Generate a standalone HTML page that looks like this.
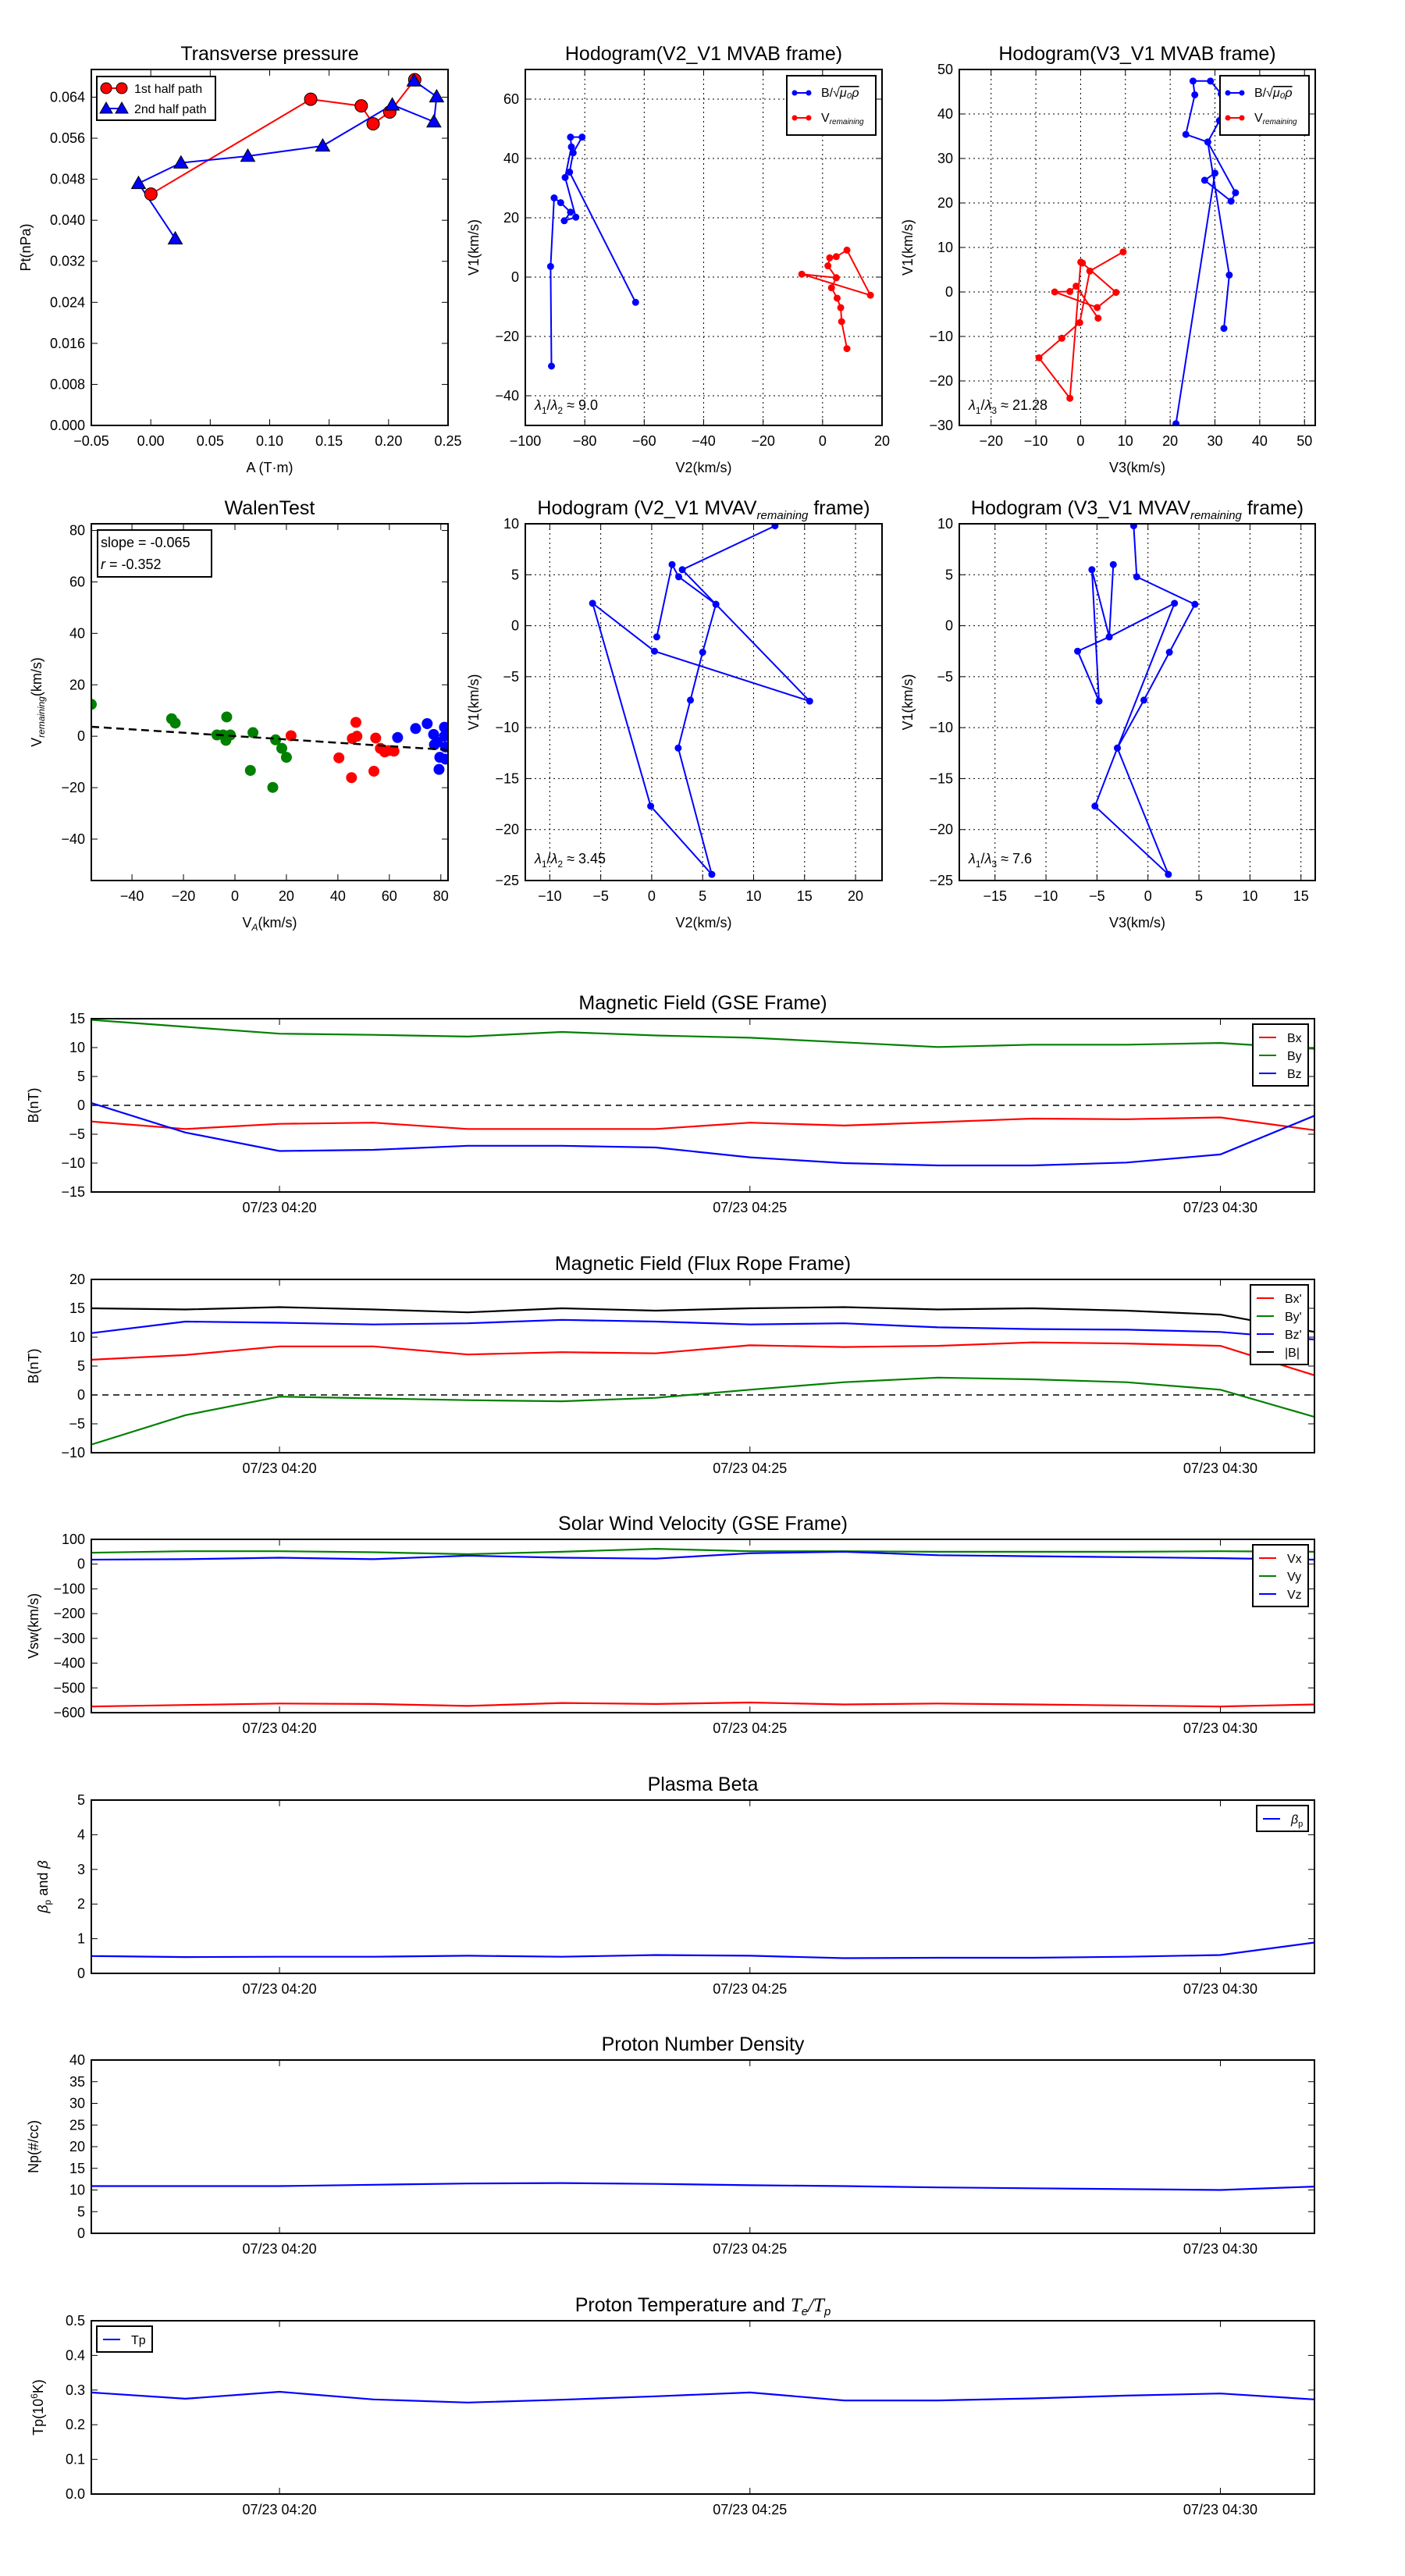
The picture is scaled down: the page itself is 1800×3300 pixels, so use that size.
<!DOCTYPE html>
<html><head><meta charset="utf-8"><title>Flux rope analysis</title>
<style>
html,body{margin:0;padding:0;background:#fff;}
svg{display:block;font-family:"Liberation Sans","DejaVu Sans",sans-serif;}
</style></head>
<body>
<svg id="fig" width="1800" height="3300" viewBox="0 0 1800 3300" xmlns="http://www.w3.org/2000/svg"></svg>
<script>
// ---------- Transverse pressure ----------
const ptFirstA = [0.0001, 0.1345, 0.177, 0.187, 0.201, 0.222];
const ptFirstP = [0.0451, 0.0636, 0.0623, 0.0588, 0.0611, 0.0674];
const ptSecondA = [0.0206, -0.0103, 0.0254, 0.0816, 0.1446, 0.2031, 0.2381, 0.2404, 0.2214];
const ptSecondP = [0.0364, 0.0472, 0.0512, 0.0525, 0.0545, 0.0625, 0.0592, 0.0641, 0.0672];
// ---------- Hodogram V2_V1 MVAB ----------
const h1BlueV2 = [-91.2, -91.5, -90.3, -88.1, -84.8, -86.9, -83.0, -86.6, -84.5, -84.8, -80.9, -83.9, -85.1, -62.9];
const h1BlueV1 = [-30, 3.6, 26.7, 25.1, 21.9, 19.0, 20.2, 33.6, 43.9, 47.2, 47.2, 41.9, 35.4, -8.5];
const h1RedV2 = [8.2, 6.4, 6.1, 4.9, 3.0, 4.6, -7.0, 16.1, 8.2, 4.6, 2.4, 1.8, 4.6];
const h1RedV1 = [-24.1, -15.0, -10.3, -7.1, -3.6, -0.2, 1.0, -6.1, 9.1, 6.9, 6.5, 3.8, -0.2];
// ---------- Hodogram V3_V1 MVAB ----------
const h2BlueV3 = [21.3, 30.0, 27.7, 33.6, 34.6, 28.4, 23.5, 25.5, 25.1, 29.0, 31.4, 31.0, 28.4, 33.2, 32.0];
const h2BlueV1 = [-29.6, 26.7, 25.1, 20.4, 22.3, 33.7, 35.4, 44.3, 47.4, 47.4, 44.5, 38.5, 33.7, 3.8, -8.2];
const h2RedV3 = [9.5, 2.05, -0.2, -4.2, -9.3, -2.4, 0.03, 0.4, 7.9, 3.7, -5.8, -2.4, -1.0, 3.9];
const h2RedV1 = [9.0, 4.7, -6.9, -10.4, -14.8, -23.9, 6.7, 6.5, -0.1, -3.5, 0.0, 0.1, 1.3, -5.9];
// ---------- Walen test ----------
const walenGreenX = [-55.8, -24.6, -23.2, -7, -4.6, -3.2, -3.5, -1.8, 6, 7, 15.8, 18.2, 20, 14.7];
const walenGreenY = [12.4, 6.8, 5.1, 0.5, 0.5, 7.5, -1.6, 0.5, -13.3, 1.4, -1.4, -4.7, -8.2, -19.9];
const walenRedX = [21.8, 40.4, 45.6, 47, 47.4, 45.3, 54, 54.7, 56.5, 58.2, 59.6, 61.8];
const walenRedY = [0.2, -8.4, -0.9, 5.4, 0, -16.1, -13.6, -0.7, -4.7, -6.1, -5.6, -5.8];
const walenBlueX = [63.2, 70.2, 74.7, 77.2, 77.5, 78.6, 79.3, 79.6, 81.4, 81.4, 81.8, 81.8];
const walenBlueY = [-0.5, 3.0, 4.9, 0.7, -3.3, -2.3, -12.9, -8.2, 3.5, 0.0, -4.2, -8.9];
const walenFit = [-0.065, 0.07]; // slope, intercept
// ---------- Hodogram V2_V1 MVAV ----------
const h3V2 = [12.1, 3.0, 6.3, 15.5, 0.27, -5.8, -0.1, 5.9, 2.6, 3.8, 5.0, 6.3, 2.65, 2.0, 0.5];
const h3V1 = [9.8, 5.5, 2.1, -7.4, -2.5, 2.2, -17.7, -24.4, -12.0, -7.3, -2.6, 2.1, 4.8, 6.0, -1.1];
// ---------- Hodogram V3_V1 MVAV ----------
const h4V3 = [-1.4, -1.1, 4.6, 2.1, -0.4, -3.0, -5.2, 2.0, -3.0, 2.6, -3.8, -5.5, -4.8, -6.9, -3.8, -3.4];
const h4V1 = [9.8, 4.8, 2.1, -2.6, -7.3, -12.0, -17.7, -24.4, -12.0, 2.2, -1.1, 5.5, -7.4, -2.5, -1.1, 6.0];
// ---------- Time series (minutes after 04:18) ----------
const timeMin = [0,1,2,3,4,5,6,7,8,9,10,11,12,13];
const timeTickMin = [2, 7, 12];
const timeTickLabels = ["07/23 04:20", "07/23 04:25", "07/23 04:30"];
const bx = [-2.8,-4.1,-3.2,-3.0,-4.1,-4.1,-4.1,-3.0,-3.5,-2.9,-2.3,-2.4,-2.1,-4.3];
const by = [14.8,13.6,12.4,12.2,11.9,12.7,12.1,11.7,10.9,10.1,10.5,10.5,10.8,9.8];
const bz = [0.4,-4.7,-7.9,-7.7,-7.0,-7.0,-7.3,-9.0,-10.0,-10.4,-10.4,-9.9,-8.5,-1.8];
const bxp = [6.1,6.9,8.4,8.4,7.0,7.4,7.2,8.6,8.3,8.5,9.1,8.9,8.5,3.4];
const byp = [-8.6,-3.5,-0.3,-0.6,-0.9,-1.1,-0.5,0.9,2.2,3.0,2.7,2.2,0.9,-3.8];
const bzp = [10.7,12.7,12.5,12.2,12.4,13.0,12.7,12.2,12.4,11.7,11.4,11.3,10.9,9.6];
const bmag = [15.0,14.8,15.2,14.8,14.3,15.0,14.6,15.0,15.2,14.8,15.0,14.6,13.9,10.9];
const vx = [-575,-569,-563,-565,-573,-561,-565,-559,-567,-563,-567,-571,-575,-567];
const vy = [46,52,52,48,40,50,62,52,52,50,50,50,52,50];
const vz = [18,20,26,20,34,26,22,44,50,36,32,28,24,18];
const betaP = [0.5,0.47,0.48,0.48,0.51,0.48,0.53,0.51,0.44,0.45,0.45,0.48,0.53,0.89];
const np = [10.9,10.9,10.9,11.2,11.5,11.6,11.4,11.1,10.9,10.6,10.4,10.2,10.0,10.8];
const tp = [0.293,0.275,0.295,0.273,0.264,0.272,0.282,0.293,0.270,0.270,0.276,0.284,0.290,0.273];

const NS = "http://www.w3.org/2000/svg";
const svg = document.getElementById('fig');
function mk(tag, attrs, parent, text){
  const e = document.createElementNS(NS, tag);
  for (const k in attrs) e.setAttribute(k, attrs[k]);
  if (text !== undefined) e.textContent = text;
  (parent || svg).appendChild(e);
  return e;
}
function fmt(v, d){ const s = v.toFixed(d); return s.replace('-', '\u2212'); }
function range(a, b, s){ const r=[]; for(let v=a; v<=b+1e-9; v+=s) r.push(Math.round(v*1e6)/1e6); return r; }

function axes(o){
  const g = mk('g', {});
  
  
  const sx = v => o.x0 + (v - o.xmin) / (o.xmax - o.xmin) * (o.x1 - o.x0);
  const sy = v => o.y1 - (v - o.ymin) / (o.ymax - o.ymin) * (o.y1 - o.y0);
  mk('rect', {x:o.x0, y:o.y0, width:o.x1-o.x0, height:o.y1-o.y0, fill:'#fff'}, g);
  if (o.grid){
    o.xticks.forEach(v => mk('line', {x1:sx(v), x2:sx(v), y1:o.y0, y2:o.y1, stroke:'#000', 'stroke-width':1, 'stroke-dasharray':'2,4'}, g));
    o.yticks.forEach(v => mk('line', {x1:o.x0, x2:o.x1, y1:sy(v), y2:sy(v), stroke:'#000', 'stroke-width':1, 'stroke-dasharray':'2,4'}, g));
  }
  const tl = 8;
  const xg = mk('g', {}, g);
  
  
  o.xticks.forEach((v, i) => {
    const x = sx(v);
    mk('line', {x1:x, x2:x, y1:o.y1, y2:o.y1-tl, stroke:'#000', 'stroke-width':1}, xg);
    mk('line', {x1:x, x2:x, y1:o.y0, y2:o.y0+tl, stroke:'#000', 'stroke-width':1}, xg);
    const lab = o.xlabels ? o.xlabels[i] : fmt(v, o.xdec || 0);
    mk('text', {x:x, y:o.y1+26, 'text-anchor':'middle', 'font-size':18}, xg, lab);
  });
  const yg = mk('g', {}, g);
  
  
  o.yticks.forEach(v => {
    const y = sy(v);
    mk('line', {x1:o.x0, x2:o.x0+tl, y1:y, y2:y, stroke:'#000', 'stroke-width':1}, yg);
    mk('line', {x1:o.x1, x2:o.x1-tl, y1:y, y2:y, stroke:'#000', 'stroke-width':1}, yg);
    mk('text', {x:o.x0-8, y:y+6, 'text-anchor':'end', 'font-size':18}, yg, fmt(v, o.ydec || 0));
  });
  const t = mk('text', {x:(o.x0+o.x1)/2, y:o.y0-12, 'text-anchor':'middle', 'font-size':25}, g, o.title);
  
  
  if (o.xtitle){
    const xt = mk('text', {x:(o.x0+o.x1)/2, y:o.y1+60, 'text-anchor':'middle', 'font-size':18}, g, o.xtitle);
    
    
  }
  if (o.ytitle){
    const cx = o.x0 - (o.ytoff || 68), cy = (o.y0+o.y1)/2;
    const yt = mk('text', {x:cx, y:cy, 'text-anchor':'middle', 'font-size':18, transform:`rotate(-90 ${cx} ${cy})`}, g);
    if (typeof o.ytitle === 'string') yt.textContent = o.ytitle; else o.ytitle(yt);
    
    
  }
  const clipId = 'c' + o.name;
  const cp = mk('clipPath', {id:clipId}, g);
  mk('rect', {x:o.x0, y:o.y0, width:o.x1-o.x0, height:o.y1-o.y0}, cp);
  const plot = mk('g', {'clip-path':`url(#${clipId})`}, g);
  
  
  o.frame = () => mk('rect', {x:o.x0, y:o.y0, width:o.x1-o.x0, height:o.y1-o.y0, fill:'none', stroke:'#000', 'stroke-width':2}, g);
  return {g, plot, sx, sy};
}
function line(ax, xs, ys, color, name, w){
  const d = xs.map((x,i) => (i ? 'L' : 'M') + ax.sx(x).toFixed(1) + ',' + ax.sy(ys[i]).toFixed(1)).join('');
  const p = mk('path', {d:d, fill:'none', stroke:color, 'stroke-width':w || 2}, ax.plot);
  
  
  return p;
}
function dots(ax, xs, ys, color, name, r, shape){
  xs.forEach((x,i) => {
    const cx = ax.sx(x), cy = ax.sy(ys[i]);
    let e;
    if (shape === 'tri'){
      e = mk('polygon', {points:`${cx},${cy-r} ${cx-r},${cy+r*0.75} ${cx+r},${cy+r*0.75}`, fill:color, stroke:'#000', 'stroke-width':1}, ax.plot);
    } else {
      e = mk('circle', {cx:cx, cy:cy, r:r, fill:color, stroke: shape==='edge' ? '#000' : color, 'stroke-width':1}, ax.plot);
    }
    
    
  });
}
function legendBox(x, y, w, h, name){
  const g = mk('g', {});
  
  
  mk('rect', {x:x, y:y, width:w, height:h, fill:'#fff', stroke:'#000', 'stroke-width':2}, g);
  return g;
}

// ===== Layout =====
const R1 = [89, 545], R2 = [671, 1128];
const C = [[117, 574], [673, 1130], [1229, 1685]];

// Transverse pressure
(function(){
  const o = {name:'transverse-pressure', x0:C[0][0], x1:C[0][1], y0:R1[0], y1:R1[1], xmin:-0.05, xmax:0.25, ymin:0, ymax:0.0694,
    xticks:range(-0.05,0.25,0.05), xdec:2, yticks:range(0,0.064,0.008), ydec:3, title:'Transverse pressure', xtitle:'A (T\u00b7m)', ytitle:'Pt(nPa)', ytoff:78};
  const ax = axes(o);
  line(ax, ptFirstA, ptFirstP, '#f00', 'first-half-path-line', 2);
  line(ax, ptSecondA, ptSecondP, '#00f', 'second-half-path-line', 2);
  dots(ax, ptFirstA, ptFirstP, '#f00', 'first-half-point', 8, 'edge');
  dots(ax, ptSecondA, ptSecondP, '#00f', 'second-half-point', 9, 'tri');
  o.frame();
  const lg = legendBox(124, 98, 152, 56, 'pressure-legend');
  mk('line', {x1:134, x2:156, y1:113, y2:113, stroke:'#f00', 'stroke-width':2}, lg);
  mk('circle', {cx:136, cy:113, r:7, fill:'#f00', stroke:'#000'}, lg);
  mk('circle', {cx:156, cy:113, r:7, fill:'#f00', stroke:'#000'}, lg);
  mk('text', {x:172, y:119, 'font-size':16}, lg, '1st half path');
  mk('line', {x1:134, x2:156, y1:139, y2:139, stroke:'#00f', 'stroke-width':2}, lg);
  mk('polygon', {points:'136,131 128,145 144,145', fill:'#00f', stroke:'#000'}, lg);
  mk('polygon', {points:'156,131 148,145 164,145', fill:'#00f', stroke:'#000'}, lg);
  mk('text', {x:172, y:145, 'font-size':16}, lg, '2nd half path');
})();

function hodoLegend(x, y, name, sq){
  const lg = legendBox(x, y, 114, 76, name);
  mk('line', {x1:x+8, x2:x+30, y1:y+22, y2:y+22, stroke:'#00f', 'stroke-width':2}, lg);
  mk('circle', {cx:x+10, cy:y+22, r:3.5, fill:'#00f'}, lg);
  mk('circle', {cx:x+28, cy:y+22, r:3.5, fill:'#00f'}, lg);
  const t1 = mk('text', {x:x+44, y:y+27, 'font-size':16}, lg);
  t1.textContent = 'B/\u221a';
  mk('tspan', {'font-style':'italic', 'text-decoration':'overline'}, t1, sq);
  mk('line', {x1:x+8, x2:x+30, y1:y+54, y2:y+54, stroke:'#f00', 'stroke-width':2}, lg);
  mk('circle', {cx:x+10, cy:y+54, r:3.5, fill:'#f00'}, lg);
  mk('circle', {cx:x+28, cy:y+54, r:3.5, fill:'#f00'}, lg);
  const t2 = mk('text', {x:x+44, y:y+59, 'font-size':16}, lg);
  t2.textContent = 'V';
  mk('tspan', {'font-size':10, 'font-style':'italic', dy:3}, t2, 'remaining');
}
function ratioText(x, y, txt, sub2, name){
  const t = mk('text', {x:x, y:y, 'font-size':18}, svg);
  
  
  mk('tspan', {'font-style':'italic'}, t, '\u03bb');
  mk('tspan', {'font-size':12, dy:5}, t, '1');
  mk('tspan', {dy:-5}, t, '/');
  mk('tspan', {'font-style':'italic'}, t, '\u03bb');
  mk('tspan', {'font-size':12, dy:5}, t, sub2);
  mk('tspan', {dy:-5}, t, ' \u2248 ' + txt);
}

// Hodogram V2_V1 MVAB
(function(){
  const o = {name:'hodogram-v2-v1-mvab', x0:C[1][0], x1:C[1][1], y0:R1[0], y1:R1[1], xmin:-100, xmax:20, ymin:-50, ymax:70,
    xticks:range(-100,20,20), yticks:range(-40,60,20), grid:true, title:'Hodogram(V2_V1 MVAB frame)', xtitle:'V2(km/s)', ytitle:'V1(km/s)', ytoff:60};
  const ax = axes(o);
  line(ax, h1BlueV2, h1BlueV1, '#00f', 'b-hodogram-line', 2);
  dots(ax, h1BlueV2, h1BlueV1, '#00f', 'b-hodogram-point', 4);
  line(ax, h1RedV2, h1RedV1, '#f00', 'v-hodogram-line', 2);
  dots(ax, h1RedV2, h1RedV1, '#f00', 'v-hodogram-point', 4);
  o.frame();
  hodoLegend(C[1][1]-122, R1[0]+8, 'hodogram-mvab-v2-legend', '\u03bc\u2080\u03c1');
  ratioText(C[1][0]+12, R1[1]-20, '9.0', '2', 'eigen-ratio-label');
})();

// Hodogram V3_V1 MVAB
(function(){
  const o = {name:'hodogram-v3-v1-mvab', x0:C[2][0], x1:C[2][1], y0:R1[0], y1:R1[1], xmin:-27.1, xmax:52.4, ymin:-30, ymax:50,
    xticks:range(-20,50,10), yticks:range(-30,50,10), grid:true, title:'Hodogram(V3_V1 MVAB frame)', xtitle:'V3(km/s)', ytitle:'V1(km/s)', ytoff:60};
  const ax = axes(o);
  line(ax, h2BlueV3, h2BlueV1, '#00f', 'b-hodogram-line', 2);
  dots(ax, h2BlueV3, h2BlueV1, '#00f', 'b-hodogram-point', 4);
  line(ax, h2RedV3, h2RedV1, '#f00', 'v-hodogram-line', 2);
  dots(ax, h2RedV3, h2RedV1, '#f00', 'v-hodogram-point', 4);
  o.frame();
  hodoLegend(C[2][1]-122, R1[0]+8, 'hodogram-mvab-v3-legend', '\u03bc\u2080\u03c1');
  ratioText(C[2][0]+12, R1[1]-20, '21.28', '3', 'eigen-ratio-label');
})();

// ===== Row 2 =====
(function(){
  const o = {name:'walen-test', x0:C[0][0], x1:C[0][1], y0:R2[0], y1:R2[1], xmin:-55.8, xmax:82.8, ymin:-56.1, ymax:82.6,
    xticks:range(-40,80,20), yticks:range(-40,80,20), title:'WalenTest', ytoff:64,
    ytitle: t => { t.textContent='V'; mk('tspan', {'font-size':12, 'font-style':'italic', dy:4}, t, 'remaining'); mk('tspan', {dy:-4}, t, '(km/s)'); }};
  const ax = axes(o);
  const xt = mk('text', {x:(C[0][0]+C[0][1])/2, y:R2[1]+60, 'text-anchor':'middle', 'font-size':18}, ax.g);
  
  
  xt.textContent = 'V';
  mk('tspan', {'font-size':12, 'font-style':'italic', dy:4}, xt, 'A');
  mk('tspan', {dy:-4}, xt, '(km/s)');
  dots(ax, walenGreenX, walenGreenY, '#008000', 'walen-point-green', 6.5);
  dots(ax, walenRedX, walenRedY, '#f00', 'walen-point-red', 6.5);
  dots(ax, walenBlueX, walenBlueY, '#00f', 'walen-point-blue', 6.5);
  const fx = [o.xmin, o.xmax];
  line(ax, fx, fx.map(v => walenFit[0]*v + walenFit[1]), '#000', 'walen-fit-line', 2.5).setAttribute('stroke-dasharray', '10,6');
  o.frame();
  const lg = legendBox(C[0][0]+8, R2[0]+8, 146, 60, 'walen-stats-box');
  mk('text', {x:C[0][0]+12, y:R2[0]+30, 'font-size':18}, lg, 'slope = -0.065');
  const r = mk('text', {x:C[0][0]+12, y:R2[0]+58, 'font-size':18}, lg);
  mk('tspan', {'font-style':'italic'}, r, 'r');
  mk('tspan', {}, r, ' = -0.352');
})();

(function(){
  const o = {name:'hodogram-v2-v1-mvav', x0:C[1][0], x1:C[1][1], y0:R2[0], y1:R2[1], xmin:-12.4, xmax:22.6, ymin:-25, ymax:10,
    xticks:range(-10,20,5), yticks:range(-25,10,5), grid:true, xtitle:'V2(km/s)', ytitle:'V1(km/s)', ytoff:60, title:''};
  const ax = axes(o);
  const t = mk('text', {x:(C[1][0]+C[1][1])/2, y:R2[0]-12, 'text-anchor':'middle', 'font-size':25}, ax.g);
  t.textContent = 'Hodogram (V2_V1 MVAV';
  mk('tspan', {'font-size':15, 'font-style':'italic', dy:6}, t, 'remaining');
  mk('tspan', {dy:-6}, t, ' frame)');
  line(ax, h3V2, h3V1, '#00f', 'hodogram-line', 2);
  dots(ax, h3V2, h3V1, '#00f', 'hodogram-point', 4);
  o.frame();
  ratioText(C[1][0]+12, R2[1]-22, '3.45', '2', 'eigen-ratio-label');
})();

(function(){
  const o = {name:'hodogram-v3-v1-mvav', x0:C[2][0], x1:C[2][1], y0:R2[0], y1:R2[1], xmin:-18.5, xmax:16.4, ymin:-25, ymax:10,
    xticks:range(-15,15,5), yticks:range(-25,10,5), grid:true, xtitle:'V3(km/s)', ytitle:'V1(km/s)', ytoff:60, title:''};
  const ax = axes(o);
  const t = mk('text', {x:(C[2][0]+C[2][1])/2, y:R2[0]-12, 'text-anchor':'middle', 'font-size':25}, ax.g);
  t.textContent = 'Hodogram (V3_V1 MVAV';
  mk('tspan', {'font-size':15, 'font-style':'italic', dy:6}, t, 'remaining');
  mk('tspan', {dy:-6}, t, ' frame)');
  line(ax, h4V3, h4V1, '#00f', 'hodogram-line', 2);
  dots(ax, h4V3, h4V1, '#00f', 'hodogram-point', 4);
  o.frame();
  ratioText(C[2][0]+12, R2[1]-22, '7.6', '3', 'eigen-ratio-label');
})();

// ===== Time series =====
const TSX0 = 117, TSX1 = 1684, TSH = 222;
function tsPanel(top, name, title, ytitle, ymin, ymax, yticks, series, legend, zero, ydec, titleFn){
  const o = {name:name, x0:TSX0, x1:TSX1, y0:top, y1:top+TSH, xmin:0, xmax:13, ymin:ymin, ymax:ymax,
    xticks:timeTickMin, xlabels:timeTickLabels, yticks:yticks, ydec:ydec||0, title: titleFn ? '' : title, ytitle:ytitle, ytoff:ydec ? 62 : 68};
  const ax = axes(o);
  if (titleFn) titleFn(ax.g, (o.x0+o.x1)/2, o.y0-12);
  if (zero) line(ax, [0,13], [0,0], '#000', name + '-zero-line', 1.5).setAttribute('stroke-dasharray', '8,6');
  series.forEach(s => line(ax, timeMin, s.v, s.c, name + '-' + s.n + '-line', 2.2));
  o.frame();
  if (legend){
    const h = series.length * 23 + 10, w = legend.w || 70;
    const lx = legend.left ? TSX0 + 7 : TSX1 - 8 - w, ly = top + 7;
    const lg = legendBox(lx, ly, w, h, name + '-legend');
    series.forEach((s, i) => {
      const yy = ly + 17 + i*23;
      mk('line', {x1:lx+8, x2:lx+30, y1:yy, y2:yy, stroke:s.c, 'stroke-width':2}, lg);
      const t = mk('text', {x:lx+44, y:yy+6, 'font-size':16}, lg);
      if (s.lab) s.lab(t); else t.textContent = s.n;
    });
  }
}
const TOPS = [1305, 1639, 1972, 2306, 2639, 2973];
tsPanel(TOPS[0], 'magnetic-field-gse', 'Magnetic Field (GSE Frame)', 'B(nT)', -15, 15, range(-15,15,5),
  [{v:bx,c:'#f00',n:'Bx'},{v:by,c:'#008000',n:'By'},{v:bz,c:'#00f',n:'Bz'}], {w:71}, true);
tsPanel(TOPS[1], 'magnetic-field-flux-rope', 'Magnetic Field (Flux Rope Frame)', 'B(nT)', -10, 20, range(-10,20,5),
  [{v:bxp,c:'#f00',n:"Bx'"},{v:byp,c:'#008000',n:"By'"},{v:bzp,c:'#00f',n:"Bz'"},{v:bmag,c:'#000',n:'|B|'}], {w:74}, true);
tsPanel(TOPS[2], 'solar-wind-velocity', 'Solar Wind Velocity (GSE Frame)', 'Vsw(km/s)', -600, 100, range(-600,100,100),
  [{v:vx,c:'#f00',n:'Vx'},{v:vy,c:'#008000',n:'Vy'},{v:vz,c:'#00f',n:'Vz'}], {w:71}, false);
tsPanel(TOPS[3], 'plasma-beta', 'Plasma Beta', '', 0, 5, range(0,5,1),
  [{v:betaP,c:'#00f',n:'beta-p',lab:t=>{mk('tspan',{'font-style':'italic'},t,'\u03b2');mk('tspan',{'font-size':11,dy:4},t,'p');}}], {w:66}, false);
(function(){
  const cx = TSX0-56, cy = TOPS[3]+TSH/2;
  const t = mk('text', {x:cx, y:cy, 'text-anchor':'middle', 'font-size':18, transform:`rotate(-90 ${cx} ${cy})`});
  
  
  mk('tspan', {'font-style':'italic'}, t, '\u03b2');
  mk('tspan', {'font-size':12, dy:4}, t, 'p');
  mk('tspan', {dy:-4}, t, ' and ');
  mk('tspan', {'font-style':'italic'}, t, '\u03b2');
})();
tsPanel(TOPS[4], 'proton-density', 'Proton Number Density', 'Np(#/cc)', 0, 40, range(0,40,5),
  [{v:np,c:'#00f',n:'Np'}], null, false);
tsPanel(TOPS[5], 'proton-temperature', '', '', 0, 0.5, range(0,0.5,0.1),
  [{v:tp,c:'#00f',n:'Tp'}], {w:71, left:true}, false, 1,
  (g, x, y) => {
    const t = mk('text', {x:x, y:y, 'text-anchor':'middle', 'font-size':25}, g);
    
    
    t.textContent = 'Proton Temperature and ';
    mk('tspan', {'font-style':'italic', 'font-family':'Liberation Serif, serif'}, t, 'T');
    mk('tspan', {'font-size':15, 'font-style':'italic', dy:5}, t, 'e');
    mk('tspan', {dy:-5, 'font-style':'italic', 'font-family':'Liberation Serif, serif'}, t, '/T');
    mk('tspan', {'font-size':15, 'font-style':'italic', dy:5}, t, 'p');
  });
(function(){
  const cx = TSX0-62, cy = TOPS[5]+TSH/2;
  const t = mk('text', {x:cx, y:cy, 'text-anchor':'middle', 'font-size':18, transform:`rotate(-90 ${cx} ${cy})`});
  
  
  t.textContent = 'Tp(10';
  mk('tspan', {'font-size':12, dy:-7}, t, '6');
  mk('tspan', {dy:7}, t, 'K)');
})();
</script>
</body></html>
